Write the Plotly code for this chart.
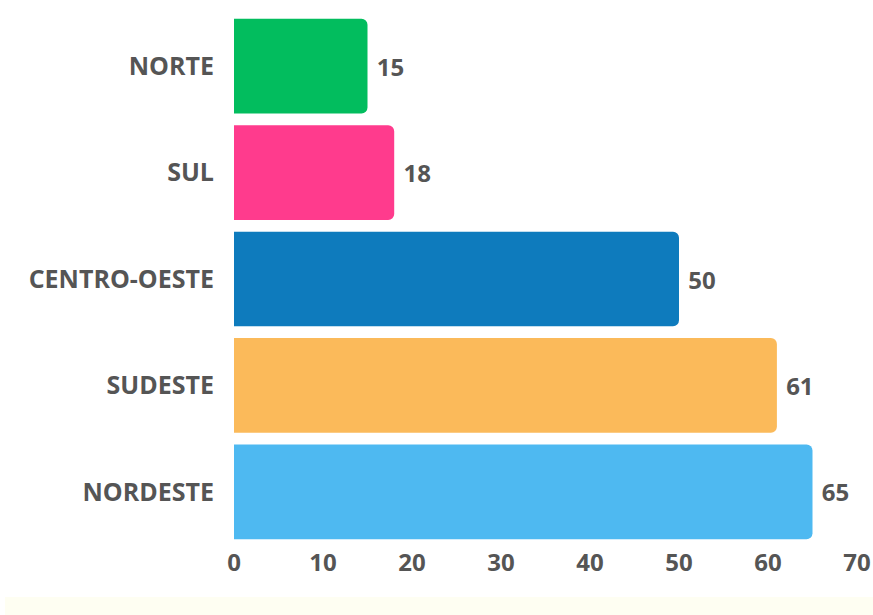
import plotly.graph_objects as go

categories = ["NORTE", "SUL", "CENTRO-OESTE", "SUDESTE", "NORDESTE"]
values = [15, 18, 50, 61, 65]
colors = ["#02BD5E", "#FF3B8D", "#0E7BBD", "#FBBA5A", "#4EB9F1"]
x_ticks = [0, 10, 20, 30, 40, 50, 60, 70]

fig = go.Figure(go.Bar(
    y=categories,
    x=values,
    orientation="h",
    marker=dict(color=colors, cornerradius=6, line=dict(width=0)),
    text=[" " + str(v) for v in values],
    textposition="outside",
    cliponaxis=False,
    textfont=dict(family="Open Sans", size=24, color="#555555", weight="bold"),
))

fig.update_layout(
    width=873, height=615,
    margin=dict(l=234, r=16, t=13, b=70, autoexpand=False),
    paper_bgcolor="white", plot_bgcolor="white",
    bargap=0.11,
    showlegend=False,
    font=dict(family="Open Sans", color="#555555"),
    shapes=[dict(type="rect", xref="paper", yref="paper",
                 x0=-229/623, x1=1.1, y0=-70/532, y1=-52/532,
                 fillcolor="#FEFEF2", line=dict(width=0), layer="below")],
)
fig.update_xaxes(range=[0, 70], tickvals=x_ticks, showgrid=False, zeroline=False,
                 showline=False, ticks="", ticklabelstandoff=1, automargin=False,
                 tickfont=dict(family="Open Sans", size=24, color="#555555", weight="bold"))
fig.update_yaxes(categoryorder="array", categoryarray=categories[::-1],
                 autorange=False, range=[-0.5, 4.5], showgrid=False, zeroline=False,
                 showline=False, ticks="", ticklabelstandoff=19, automargin=False,
                 tickfont=dict(family="Open Sans", size=25, color="#555555", weight="bold"))

fig.write_html(
    "out.html",
    config={"displayModeBar": False},
    post_script="document.body.style.margin='0';document.body.style.overflow='hidden';"
                "document.documentElement.style.overflow='hidden';",
)
